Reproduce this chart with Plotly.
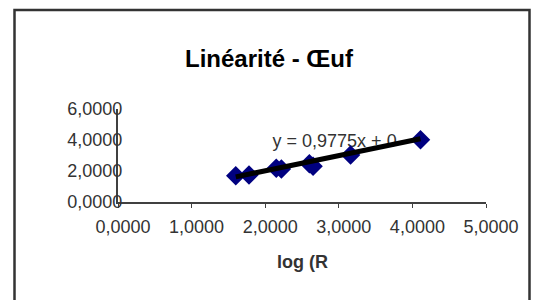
import plotly.graph_objects as go

# ---- data ----
log_x = [1.60, 1.78, 2.15, 2.22, 2.60, 2.65, 3.16, 4.11]
log_y = [1.69, 1.74, 2.18, 2.13, 2.47, 2.30, 3.04, 4.02]
SLOPE = 0.9775
INTERCEPT = 0.06
x_ticks = [0, 1, 2, 3, 4, 5]
x_tick_labels = ["0,0000", "1,0000", "2,0000", "3,0000", "4,0000", "5,0000"]
y_ticks = [0, 2, 4, 6]
y_tick_labels = ["0,0000", "2,0000", "4,0000", "6,0000"]
title_text = "Linéarité - Œuf"
x_title_text = "log (R"
equation_text = "y = 0,9775x + 0"

W, H = 533, 300
L, R, T, B = 118, 47, 109, 98
pw, ph = W - L - R, H - T - B


def px_x(p):
    return (p - L) / pw


def px_y(p):
    return (H - B - p) / ph


FONT = "Liberation Sans, Arial, sans-serif"

x_line = [min(log_x), max(log_x)]
y_line = [SLOPE * v + INTERCEPT for v in x_line]

fig = go.Figure()
# equation label (beneath the marks, as in the reference)
fig.add_trace(go.Scatter(
    x=[2.10], y=[3.85], mode="text", text=[equation_text],
    textposition="middle right",
    textfont=dict(family=FONT, size=18, color="#333333"),
    hoverinfo="skip", showlegend=False, cliponaxis=False,
))
fig.add_trace(go.Scatter(
    x=log_x, y=log_y, mode="markers",
    marker=dict(symbol="diamond", size=15, color="#000080",
                line=dict(width=0)),
    showlegend=False, cliponaxis=False,
))
fig.add_trace(go.Scatter(
    x=x_line, y=y_line, mode="lines",
    line=dict(color="black", width=5),
    showlegend=False, cliponaxis=False,
))

fig.update_layout(
    width=W, height=H,
    margin=dict(l=L, r=R, t=T, b=B, autoexpand=False),
    paper_bgcolor="white", plot_bgcolor="white",
    title=dict(text="<b>" + title_text + "</b>", x=269 / W, xanchor="center",
               y=1 - 59 / H, yanchor="middle", yref="container",
               font=dict(family=FONT, size=24, color="black")),
    font=dict(family=FONT, color="#333333"),
)
fig.update_xaxes(
    range=[0, 5], tickvals=x_ticks, ticktext=x_tick_labels,
    showgrid=False, zeroline=False, showline=True, linecolor="#404040",
    linewidth=2, ticks="outside", ticklen=4, tickcolor="#404040", tickwidth=1,
    tickfont=dict(family=FONT, size=18, color="#333333"),
    ticklabelshift=5, ticklabelstandoff=3, automargin=False,
)
fig.update_yaxes(
    range=[0, 6], tickvals=y_ticks, ticktext=y_tick_labels,
    showgrid=False, zeroline=False, showline=True, linecolor="#404040",
    linewidth=2, ticks="",
    tickfont=dict(family=FONT, size=18, color="#333333"),
    ticklabelstandoff=-10, automargin=False,
)
fig.add_annotation(
    x=px_x(275), y=px_y(262), xref="paper", yref="paper",
    xanchor="left", yanchor="middle", showarrow=False,
    text="<b>" + x_title_text + "</b>",
    font=dict(family=FONT, size=18, color="#333333"),
)
fig.add_shape(
    type="rect", xref="paper", yref="paper",
    x0=px_x(14.5), x1=px_x(529.5), y0=px_y(312), y1=px_y(10),
    line=dict(color="#333333", width=2.5), fillcolor="rgba(0,0,0,0)",
    layer="above",
)

fig.write_html(
    "out.html",
    config={"displayModeBar": False},
    post_script="document.body.style.margin='0';document.body.style.overflow='hidden';",
)
